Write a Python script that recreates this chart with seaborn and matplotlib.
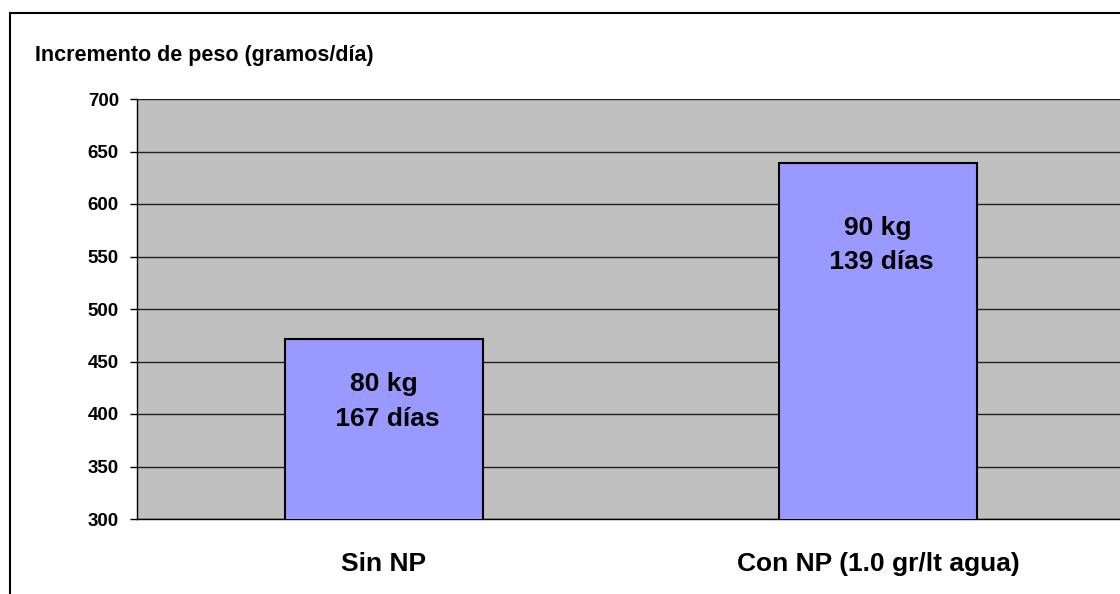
import numpy as np
import pandas as pd
import matplotlib
matplotlib.use("Agg")
import matplotlib.pyplot as plt
from matplotlib.patches import Rectangle
import seaborn as sns

# data
categories = ["Sin NP", "Con NP (1.0 gr/lt agua)"]
values = [471, 639]
bar_labels = ["80 kg\n 167 días", "90 kg\n 139 días"]
label_y = [412, 561]
y_ticks = [300, 350, 400, 450, 500, 550, 600, 650, 700]

sns.set_style("white")
plt.rcParams["font.family"] = ["Liberation Sans", "DejaVu Sans"]
plt.rcParams["font.weight"] = "bold"
plt.rcParams["text.color"] = "black"
plt.rcParams["xtick.color"] = "black"
plt.rcParams["ytick.color"] = "black"

df = pd.DataFrame({"cat": categories, "val": values})

fig = plt.figure(figsize=(11.2, 5.94), dpi=100)
ax = fig.add_axes([137/1120, 75/594, 988/1120, 420/594])

sns.barplot(data=df, x="cat", y="val", color="#9999FF", saturation=1,
            edgecolor="black", linewidth=1.5, width=0.4, ax=ax, zorder=3)

ax.set_facecolor("#C0C0C0")
ax.set_ylim(300, 700)
ax.set_xlim(-0.5, 1.5)
ax.set_yticks(y_ticks)
ax.set_yticklabels([str(t) for t in y_ticks], fontsize=13.5, fontweight="bold", color="black")
ax.grid(axis="y", color="#202020", linewidth=1, zorder=1)
ax.set_axisbelow(True)

ax.set_xticks([0, 1])
ax.set_xticklabels(categories, fontsize=19, fontweight="bold", color="black")
ax.set_xticks([-0.5, 0.5, 1.5], minor=True)
ax.tick_params(axis="x", which="major", length=0, pad=24)
ax.tick_params(axis="x", which="minor", length=8, width=1, color="black", direction="out")
ax.tick_params(axis="y", length=5, width=1, color="black", direction="out", pad=8, left=True)

ax.set_xlabel("")
ax.set_ylabel("")
for s in ["top", "right"]:
    ax.spines[s].set_visible(False)
for s in ["left", "bottom"]:
    ax.spines[s].set_color("black")
    ax.spines[s].set_linewidth(1)

for i, (lab, yy) in enumerate(zip(bar_labels, label_y)):
    ax.text(i, yy, lab, ha="center", va="center", multialignment="center",
            fontsize=19, fontweight="bold", linespacing=1.55, color="black", zorder=4)

fig.text(35/1120, 1 - 55/594, "Incremento de peso (gramos/día)",
         ha="left", va="center", fontsize=15.5, fontweight="bold", color="black")

# outer chart frame
fig.patches.append(Rectangle((10/1120, -0.2), 1.2, 1 - 13/594 + 0.2,
                             transform=fig.transFigure, fill=False,
                             edgecolor="black", linewidth=1.5))

fig.savefig("out.png", dpi=100)
plt.close()
